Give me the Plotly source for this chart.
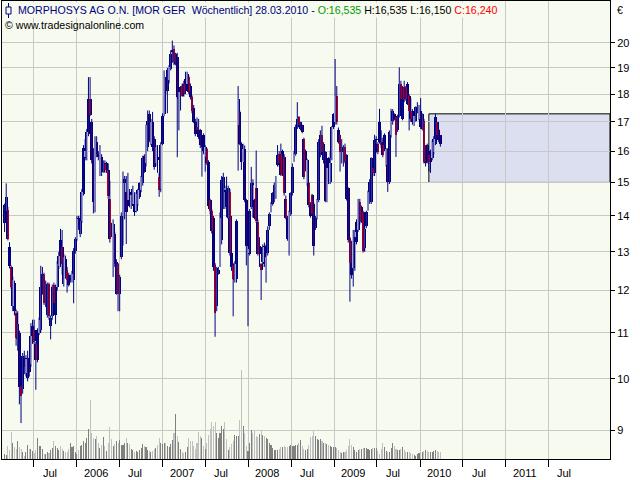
import math
import pandas as pd
import plotly.graph_objects as go

# ---------------- data (weekly candles, EUR) ----------------
opens = [
    13.81, 14.15, 14.17, 13.12, 12.60, 11.62, 12.20, 11.45, 10.85, 11.00,
    9.86, 9.79, 10.45, 10.12, 10.02, 10.31, 10.31, 10.80, 11.07, 10.74,
    10.39, 11.00, 11.07, 12.00, 12.38, 11.69, 11.40, 12.17, 11.15, 11.38,
    12.13, 11.42, 12.09, 12.62, 13.32, 13.12, 12.17, 12.81, 12.51, 12.38,
    12.26, 12.27, 12.27, 13.03, 13.35, 13.95, 13.49, 13.86, 14.66, 15.80,
    15.76, 16.57, 17.82, 16.98, 15.70, 14.30, 16.29, 15.90, 15.33, 15.80,
    15.33, 15.59, 15.38, 15.38, 14.51, 13.77, 12.68, 13.49, 11.92, 12.68,
    11.92, 12.85, 14.00, 14.97, 14.70, 14.46, 14.71, 14.30, 14.36, 14.66,
    14.15, 14.36, 14.56, 14.76, 14.97, 15.85, 15.60, 16.13, 17.27, 16.25,
    16.98, 16.42, 15.60, 15.81, 15.18, 14.80, 16.25, 17.28, 18.52, 18.12,
    18.52, 18.97, 19.63, 19.76, 19.17, 19.43, 17.82, 18.00, 18.32, 18.39,
    18.13, 18.39, 18.65, 18.32, 17.88, 17.50, 17.00, 16.81, 16.70, 16.70,
    16.13, 16.53, 15.81, 16.08, 15.65, 14.46, 14.15, 13.95, 12.64, 11.62,
    12.43, 12.64, 13.31, 14.82, 14.77, 14.72, 13.95, 14.72, 12.98, 12.64,
    12.26, 12.30, 16.87, 17.33, 16.25, 15.65, 16.08, 14.46, 12.98, 12.94,
    14.26, 14.97, 14.46, 14.82, 13.82, 12.94, 12.68, 12.72, 13.17, 12.43,
    12.98, 13.70, 14.15, 14.36, 14.67, 14.55, 15.55, 15.92, 15.92, 15.23,
    15.81, 14.51, 13.95, 13.05, 14.05, 14.67, 15.71, 15.92, 16.81, 17.16,
    16.75, 16.87, 16.40, 15.39, 14.97, 14.97, 14.36, 14.61, 14.36, 13.65,
    13.95, 14.46, 15.86, 16.53, 15.71, 15.97, 14.43, 15.76, 15.02, 15.76,
    16.81, 16.98, 17.94, 16.72, 16.53, 15.97, 16.00, 16.13, 15.86, 14.82,
    13.37, 12.70, 12.56, 13.40, 13.26, 13.59, 14.41, 13.82, 14.10, 13.10,
    13.72, 14.20, 14.41, 14.41, 15.44, 15.28, 16.36, 16.25, 16.98, 16.30,
    16.19, 16.08, 15.55, 16.08, 15.02, 16.53, 17.04, 17.28, 17.16, 16.70,
    17.22, 18.38, 17.10, 18.25, 18.25, 17.64, 17.94, 17.40, 17.40, 16.92,
    17.04, 17.34, 17.10, 17.40, 16.75, 17.04, 15.60, 16.19, 15.86, 15.65,
    15.76, 15.97, 16.25, 16.98, 16.70, 16.535,
]
highs = [
    14.36, 14.97, 14.26, 13.26, 12.64, 12.35, 12.25, 11.54, 11.50, 11.05,
    9.90, 10.55, 10.60, 10.50, 10.60, 10.45, 11.22, 11.30, 11.30, 10.80,
    11.10, 11.35, 12.63, 12.60, 12.45, 12.25, 12.20, 12.20, 11.40, 12.15,
    12.20, 12.15, 12.75, 13.00, 13.63, 13.60, 12.95, 12.90, 12.60, 12.45,
    12.40, 12.50, 13.10, 13.40, 14.00, 14.00, 14.00, 14.80, 16.20, 16.40,
    16.75, 18.64, 18.64, 17.10, 16.10, 16.50, 16.50, 16.00, 16.20, 15.90,
    15.70, 15.70, 15.65, 15.60, 15.05, 13.80, 13.90, 13.55, 12.80, 12.70,
    12.40, 14.10, 15.34, 15.20, 15.20, 15.30, 14.80, 14.70, 14.90, 14.70,
    14.70, 14.80, 15.00, 15.20, 15.85, 15.90, 16.90, 17.40, 17.40, 17.10,
    17.35, 16.50, 16.20, 16.20, 15.30, 16.30, 17.30, 18.90, 18.60, 19.00,
    19.10, 19.70, 20.10, 19.90, 19.60, 19.60, 18.10, 18.30, 18.40, 18.50,
    18.85, 18.85, 18.70, 18.40, 17.95, 17.60, 17.10, 17.15, 17.10, 16.75,
    16.20, 16.60, 16.20, 16.10, 15.70, 14.50, 14.20, 14.00, 12.70, 12.60,
    12.60, 14.10, 15.20, 15.30, 14.90, 15.18, 14.90, 14.80, 14.00, 12.70,
    12.75, 13.90, 18.30, 17.40, 16.30, 16.25, 16.19, 14.50, 13.60, 14.20,
    15.49, 15.10, 14.50, 16.02, 13.90, 13.40, 12.70, 13.20, 13.25, 13.20,
    13.70, 14.10, 14.40, 14.70, 15.00, 15.20, 16.20, 16.00, 16.25, 16.05,
    15.90, 14.60, 14.00, 14.15, 14.70, 15.60, 16.00, 16.90, 17.70, 17.20,
    17.00, 16.90, 16.45, 16.05, 15.75, 15.00, 14.40, 14.65, 14.40, 14.00,
    14.50, 16.40, 16.70, 16.86, 16.30, 16.00, 15.60, 15.80, 16.00, 16.85,
    17.30, 19.35, 18.30, 16.80, 16.55, 16.40, 16.20, 16.25, 15.90, 14.85,
    13.40, 13.30, 13.60, 13.60, 13.90, 14.50, 14.50, 14.30, 14.15, 14.00,
    14.15, 14.75, 15.10, 15.80, 15.50, 16.55, 16.50, 16.30, 17.46, 16.70,
    16.45, 16.60, 16.10, 16.10, 16.70, 17.46, 17.45, 17.30, 17.20, 17.25,
    19.02, 18.50, 18.30, 18.50, 18.30, 18.45, 18.00, 17.85, 17.45, 17.25,
    17.55, 17.70, 17.60, 17.85, 17.30, 17.10, 16.20, 16.25, 15.90, 16.05,
    16.35, 16.50, 17.28, 17.00, 16.75, 16.535,
]
lows = [
    13.54, 14.10, 13.31, 12.56, 12.04, 11.50, 11.40, 10.71, 10.60, 9.49,
    9.13, 9.70, 10.10, 10.05, 9.95, 10.05, 10.25, 10.75, 10.75, 9.78,
    10.35, 10.95, 11.00, 11.90, 11.65, 11.60, 11.35, 11.30, 10.85, 11.30,
    11.60, 11.20, 12.00, 12.55, 12.60, 12.40, 12.10, 12.30, 11.95, 12.10,
    12.20, 12.20, 11.69, 12.95, 13.30, 13.60, 13.40, 13.80, 14.60, 15.70,
    15.70, 16.50, 17.20, 15.60, 14.07, 14.10, 15.80, 15.70, 15.20, 15.20,
    15.30, 15.30, 15.30, 14.50, 13.25, 13.40, 12.34, 12.60, 11.90, 11.50,
    11.50, 12.80, 13.17, 13.90, 13.21, 14.40, 14.25, 14.20, 14.30, 14.00,
    14.10, 14.30, 14.50, 14.70, 14.90, 15.30, 15.50, 16.00, 16.30, 16.20,
    16.00, 15.40, 15.50, 15.30, 14.56, 14.70, 16.20, 17.20, 18.00, 17.30,
    18.40, 18.90, 19.20, 19.10, 19.10, 15.80, 16.70, 17.40, 17.90, 17.90,
    18.00, 18.30, 18.00, 17.80, 17.30, 16.95, 16.50, 16.60, 16.40, 16.10,
    15.18, 15.90, 15.34, 15.55, 14.20, 14.05, 13.50, 12.50, 10.91, 11.50,
    12.40, 12.60, 13.20, 14.20, 14.20, 13.96, 13.90, 12.90, 12.50, 11.38,
    12.20, 12.20, 15.37, 16.20, 15.39, 15.65, 14.40, 12.64, 11.15, 12.90,
    14.20, 13.95, 13.90, 13.80, 12.90, 12.60, 11.77, 12.60, 12.60, 12.20,
    12.90, 13.60, 14.10, 14.30, 14.40, 14.50, 15.50, 15.50, 15.20, 15.20,
    14.60, 13.90, 13.30, 12.90, 14.00, 14.60, 15.65, 15.85, 16.75, 16.80,
    16.70, 16.60, 15.10, 15.35, 14.90, 14.25, 13.95, 14.00, 12.90, 13.60,
    13.90, 14.40, 15.80, 15.90, 15.60, 14.40, 14.40, 14.95, 14.95, 15.70,
    16.75, 16.90, 16.90, 16.25, 15.34, 15.60, 15.50, 15.60, 14.45, 13.25,
    11.73, 12.30, 12.10, 12.50, 13.20, 13.55, 13.75, 13.80, 12.98, 13.00,
    13.65, 14.15, 14.35, 14.35, 15.20, 15.20, 15.95, 15.90, 16.25, 16.10,
    15.80, 16.00, 15.50, 14.71, 14.95, 16.45, 16.90, 17.05, 15.81, 16.65,
    17.15, 17.75, 17.05, 17.70, 17.75, 17.60, 16.70, 17.00, 16.90, 16.85,
    17.00, 17.30, 17.05, 16.75, 16.70, 15.60, 15.50, 15.60, 15.34, 15.30,
    15.70, 15.90, 16.20, 16.45, 16.30, 16.15,
]
closes = [
    14.31, 14.56, 13.35, 12.62, 12.09, 12.26, 11.50, 10.89, 11.20, 9.83,
    9.66, 10.49, 10.24, 10.42, 10.45, 10.14, 10.93, 11.15, 10.82, 10.39,
    11.07, 11.30, 12.08, 12.43, 11.69, 12.17, 12.10, 11.38, 11.35, 12.09,
    11.69, 12.09, 12.68, 12.89, 12.68, 12.68, 12.85, 12.43, 12.26, 12.15,
    12.32, 12.43, 13.03, 13.35, 13.90, 13.68, 13.86, 14.71, 16.11, 16.00,
    16.63, 17.82, 17.25, 15.70, 14.40, 16.35, 15.90, 15.80, 16.11, 15.33,
    15.60, 15.38, 15.60, 14.60, 13.35, 13.63, 13.77, 12.68, 12.73, 11.92,
    12.34, 14.00, 14.97, 15.12, 14.10, 15.18, 14.30, 14.61, 14.81, 14.10,
    14.66, 14.76, 14.97, 15.18, 15.76, 15.33, 16.87, 17.04, 16.36, 16.98,
    16.13, 15.49, 16.13, 15.70, 14.76, 16.20, 17.20, 18.65, 18.12, 18.91,
    19.04, 19.57, 19.70, 19.24, 19.57, 17.88, 18.06, 18.26, 17.94, 18.00,
    18.58, 18.78, 18.06, 17.88, 17.40, 17.00, 16.58, 16.70, 16.47, 16.19,
    16.19, 16.02, 16.13, 15.60, 14.30, 14.15, 13.58, 12.60, 11.46, 12.56,
    12.51, 13.95, 15.07, 15.18, 14.72, 14.26, 14.82, 12.98, 12.60, 12.30,
    12.68, 13.86, 17.82, 16.25, 15.65, 16.08, 14.46, 13.16, 13.07, 14.15,
    14.97, 14.92, 13.95, 13.86, 12.94, 13.17, 12.51, 13.12, 12.68, 12.85,
    13.61, 14.05, 14.36, 14.67, 14.92, 15.18, 15.87, 15.60, 15.23, 16.00,
    14.67, 13.95, 13.35, 14.10, 14.67, 15.50, 15.92, 16.81, 17.10, 16.87,
    16.98, 16.64, 15.18, 16.02, 15.71, 14.31, 14.00, 14.05, 13.16, 13.95,
    14.46, 16.30, 16.53, 15.97, 16.25, 14.43, 15.44, 15.02, 15.60, 16.81,
    17.28, 17.94, 16.98, 16.30, 15.97, 16.13, 16.13, 15.65, 14.51, 13.32,
    12.70, 12.38, 13.54, 13.54, 13.82, 14.41, 13.82, 14.26, 13.03, 13.63,
    14.10, 14.71, 15.02, 15.76, 15.28, 16.36, 16.42, 15.97, 16.30, 16.19,
    15.86, 16.53, 16.08, 15.02, 16.64, 17.04, 17.40, 17.10, 16.53, 17.22,
    18.38, 17.82, 18.25, 17.82, 17.82, 18.38, 17.40, 17.10, 16.98, 17.22,
    17.52, 17.52, 17.52, 16.81, 17.28, 15.65, 16.14, 15.65, 15.65, 16.02,
    16.30, 16.42, 17.16, 16.53, 16.36, 16.24,
]
# weekly volume (thousand shares)
volumes = [
    16, 12, 41, 28, 81, 50, 38, 30, 54, 36, 31, 22, 8, 20, 43, 30, 31, 24, 18, 26,
    64, 40, 40, 30, 16, 14, 22, 18, 28, 34, 54, 40, 34, 26, 40, 30, 24, 20, 22, 30,
    48, 36, 41, 22, 14, 26, 40, 44, 54, 50, 64, 90, 181, 80, 64, 60, 70, 50, 34, 44,
    68, 40, 24, 50, 98, 60, 41, 46, 56, 50, 58, 44, 42, 50, 64, 48, 45, 30, 26, 22,
    24, 20, 26, 34, 46, 40, 36, 28, 24, 20, 24, 30, 34, 44, 64, 50, 46, 48, 50, 40,
    38, 46, 58, 80, 138, 70, 52, 30, 22, 18, 20, 36, 64, 56, 54, 40, 30, 50, 82, 70,
    64, 40, 30, 50, 74, 90, 112, 100, 112, 80, 64, 80, 100, 90, 112, 60, 28, 36, 46, 56,
    73, 70, 71, 120, 271, 100, 80, 40, 24, 50, 89, 80, 84, 70, 68, 76, 88, 74, 70, 64,
    60, 50, 42, 34, 28, 26, 28, 30, 36, 38, 40, 36, 38, 40, 42, 40, 40, 42, 44, 50,
    58, 40, 30, 28, 30, 44, 66, 70, 85, 70, 60, 58, 60, 54, 50, 48, 46, 42, 40, 38,
    38, 36, 34, 26, 20, 18, 20, 22, 26, 40, 60, 44, 36, 26, 22, 26, 30, 30, 32, 32,
    34, 30, 26, 30, 34, 32, 34, 24, 16, 30, 50, 36, 24, 22, 20, 34, 49, 40, 30, 28,
    26, 30, 36, 28, 22, 20, 20, 18, 16, 12, 10, 14, 18, 18, 20, 24, 28, 24, 20, 20,
    20, 24, 28, 24, 20, 22,
]
last_bar_date = "2010-03-28"

x_tick_dates = ["2005-07-01", "2006-01-01", "2006-07-01", "2007-01-01", "2007-07-01",
                "2008-01-01", "2008-07-01", "2009-01-01", "2009-07-01", "2010-01-01",
                "2010-07-01", "2011-01-01", "2011-07-01"]
x_tick_labels = ["Jul", "2006", "Jul", "2007", "Jul", "2008", "Jul", "2009", "Jul",
                 "2010", "Jul", "2011", "Jul"]
price_ticks = [9, 10, 11, 12, 13, 14, 15, 16, 17, 18, 19, 20]

box_start = "2010-02-07"
box_low = 15.0
box_high = 17.28

# ---------------- figure ----------------
W, H = 640, 480
ML, MR, MT, MB = 2, 30, 1, 21
BG = "#F7FAEF"
GRID = "#C8C8C8"
NAVY = "#000080"
FONT = "Liberation Sans"
DAY = 86400000

n = len(closes)
dates = list(pd.date_range(end=last_bar_date, periods=n, freq="7D"))
vdates = pd.date_range(start=dates[0], periods=len(volumes), freq="7D")
vcolors = []
for i in range(len(volumes)):
    up = i < n and closes[i] >= opens[i]
    vcolors.append("#808080" if up else "#C0C0C0")

x_range = ["2005-02-16", "2012-03-19"]
y_range = [math.log10(8.478), math.log10(21.81)]


def px_x(px):
    return (px - ML) / (W - ML - MR)


def px_y(py):
    return 1 - (py - MT) / (H - MT - MB)


fig = go.Figure()
# volume (bottom layer)
fig.add_trace(go.Bar(
    x=vdates, y=volumes, yaxis="y", width=4.5 * DAY,
    marker=dict(color=vcolors, line=dict(width=0)), hoverinfo="skip"))

# wicks
wx, wy = [], []
for i in range(n):
    wx += [dates[i], dates[i], None]
    wy += [lows[i], highs[i], None]
fig.add_trace(go.Scatter(x=wx, y=wy, yaxis="y2", mode="lines",
                         line=dict(color=NAVY, width=1), hoverinfo="skip"))

# candle bodies: navy frame first, then the fills on top
body_base = [min(o, c) for o, c in zip(opens, closes)]
body_len = [max(abs(c - o), 0.03) for o, c in zip(opens, closes)]
fig.add_trace(go.Bar(x=dates, base=body_base, y=body_len, yaxis="y2", width=12 * DAY,
                     marker=dict(color=NAVY, line=dict(width=0)), hoverinfo="skip"))
for want_up, fill in ((True, "#FFFFFF"), (False, "#FF0000")):
    idx = [i for i in range(n) if (closes[i] >= opens[i]) == want_up
           and abs(closes[i] - opens[i]) > 0.08]
    fig.add_trace(go.Bar(
        x=[dates[i] for i in idx],
        base=[min(opens[i], closes[i]) for i in idx],
        y=[abs(closes[i] - opens[i]) for i in idx],
        yaxis="y2", width=6.2 * DAY,
        marker=dict(color=fill, line=dict(width=0)),
        hoverinfo="skip"))

fig.add_shape(type="rect", xref="x", yref="y2", x0=box_start, x1=x_range[1],
              y0=box_low, y1=box_high, fillcolor="#DCDFF0",
              line=dict(color="black", width=1), layer="below")

# small candle icon in the header
fig.add_shape(type="line", xref="paper", yref="paper", x0=px_x(8.5), x1=px_x(8.5),
              y0=px_y(3), y1=px_y(18), line=dict(color=NAVY, width=1))
fig.add_shape(type="rect", xref="paper", yref="paper", x0=px_x(6), x1=px_x(11),
              y0=px_y(7), y1=px_y(14), line=dict(color=NAVY, width=1), fillcolor=BG)

header = ('<span style="color:#000080">MORPHOSYS AG O.N. [MOR GER&nbsp; Wöchentlich] 28.03.2010 - </span>'
          '<span style="color:#009900">O:16,535</span>'
          '<span style="color:#000000"> H:16,535 L:16,150 </span>'
          '<span style="color:#FF0000">C:16,240</span>')
fig.add_annotation(xref="paper", yref="paper", x=px_x(16), y=px_y(10), xanchor="left",
                   yanchor="middle", text=header, showarrow=False, bgcolor=BG, borderpad=1,
                   font=dict(family=FONT, size=10.6, color=NAVY))
fig.add_annotation(xref="paper", yref="paper", x=px_x(3), y=px_y(25), xanchor="left",
                   yanchor="middle", text="© www.tradesignalonline.com", showarrow=False,
                   font=dict(family=FONT, size=10.6, color="black"))
fig.add_annotation(xref="paper", yref="paper", x=px_x(615), y=px_y(10), xanchor="left",
                   yanchor="middle", text="€", showarrow=False,
                   font=dict(family=FONT, size=10.6, color="black"))

for d, lab in zip(x_tick_dates, x_tick_labels):
    fig.add_annotation(xref="x", yref="paper", x=d, y=0, xanchor="left", yanchor="middle",
                       xshift=7 if lab == "Jul" else 5, yshift=-14, text=lab, showarrow=False,
                       font=dict(family=FONT, size=11, color="black"))

fig.update_layout(
    width=W, height=H, margin=dict(l=ML, r=MR, t=MT, b=MB),
    paper_bgcolor="white", plot_bgcolor=BG, showlegend=False,
    barmode="overlay", bargap=0,
    xaxis=dict(type="date", range=x_range, tickvals=x_tick_dates, showticklabels=False,
               ticks="outside", ticklen=7, tickcolor="black", showgrid=True,
               gridcolor=GRID, gridwidth=1, showline=True, linecolor="black", linewidth=1,
               mirror=True, zeroline=False),
    yaxis=dict(range=[0, 1394], visible=False, showgrid=False, zeroline=False),
    yaxis2=dict(type="log", overlaying="y", side="right", range=y_range,
                tickvals=price_ticks, ticktext=[str(v) for v in price_ticks],
                ticks="outside", ticklen=4, tickcolor="black", showgrid=True,
                gridcolor=GRID, gridwidth=1, showline=True, linecolor="black",
                linewidth=1, mirror=True, zeroline=False,
                tickfont=dict(family=FONT, size=11, color="black")),
)

fig.write_html(
    "out.html",
    config={"displayModeBar": False, "staticPlot": True},
    post_script="document.body.style.margin='0px';"
                "document.body.style.overflow='hidden';"
                "document.documentElement.style.overflow='hidden';",
)
